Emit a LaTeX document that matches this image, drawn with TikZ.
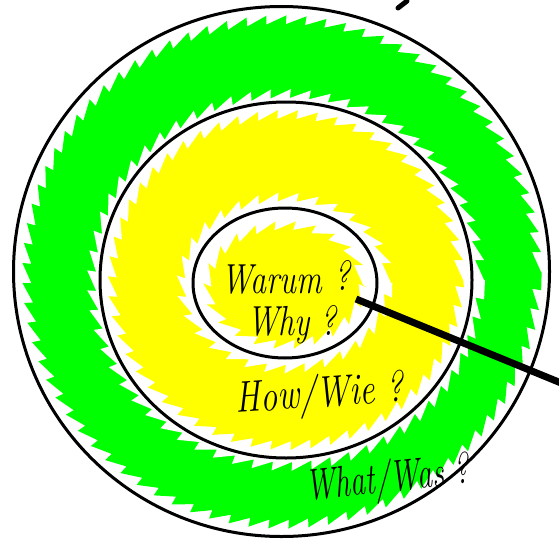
\documentclass[tikz,border=0pt]{standalone}
\usetikzlibrary{decorations.pathmorphing}
\definecolor{ringgreen}{RGB}{0,255,0}
\definecolor{ringyellow}{RGB}{255,255,0}
\tikzset{
  jag/.style={decorate,decoration={saw,segment length=20pt,amplitude=9pt}},
  ringline/.style={draw=black,line width=3pt},
  hand/.style={font=\itshape\fontsize{40}{40}\selectfont,inner sep=0pt}
}
\begin{document}
\begin{tikzpicture}[x=1pt,y=-1pt]
  \useasboundingbox[fill=white] (0,0) rectangle (559,543);
  % fills
  \fill[ringgreen,jag] (282,272) ellipse [x radius=259pt,y radius=256pt];
  \fill[white,jag] (286,280) ellipse [x radius=198pt,y radius=190pt];
  \fill[ringyellow,jag] (286,280) ellipse [x radius=177pt,y radius=169pt];
  \fill[white,jag] (285,283) ellipse [x radius=106pt,y radius=89pt];
  \fill[ringyellow,jag] (285,285) ellipse [x radius=78pt,y radius=62pt];
  % rings
  \draw[ringline] (281.5,271.5) ellipse [x radius=268pt,y radius=265pt];
  \draw[ringline] (286,280) ellipse [x radius=186pt,y radius=178pt];
  \draw[ringline] (285,283) ellipse [x radius=92pt,y radius=75pt];
  % pointer
  \coordinate (pstart) at (356,299);
  \coordinate (pend) at (566,385);
  \draw[line width=7pt] (pstart) -- (pend);
  \coordinate (ta) at (398,8);
  \coordinate (tb) at (407,1);
  \draw[line width=5pt,line cap=round] (ta) -- (tb);
  % texts
  \node[hand] (warum) at (272,280) {\scalebox{0.8}[1.05]{Warum}};
  \node[hand] (q1) at (342,275) {\scalebox{0.8}[1.05]{?}};
  \node[hand] (why) at (292,325) {\scalebox{0.8}[1.05]{Why ?}};
  \node[hand,rotate=4] (how) at (320,396) {\scalebox{0.85}[1.1]{How/Wie ?}};
  \node[hand,rotate=6] (what) at (388,481) {\scalebox{0.75}[1.1]{What/Was ?}};
\end{tikzpicture}
\end{document}
